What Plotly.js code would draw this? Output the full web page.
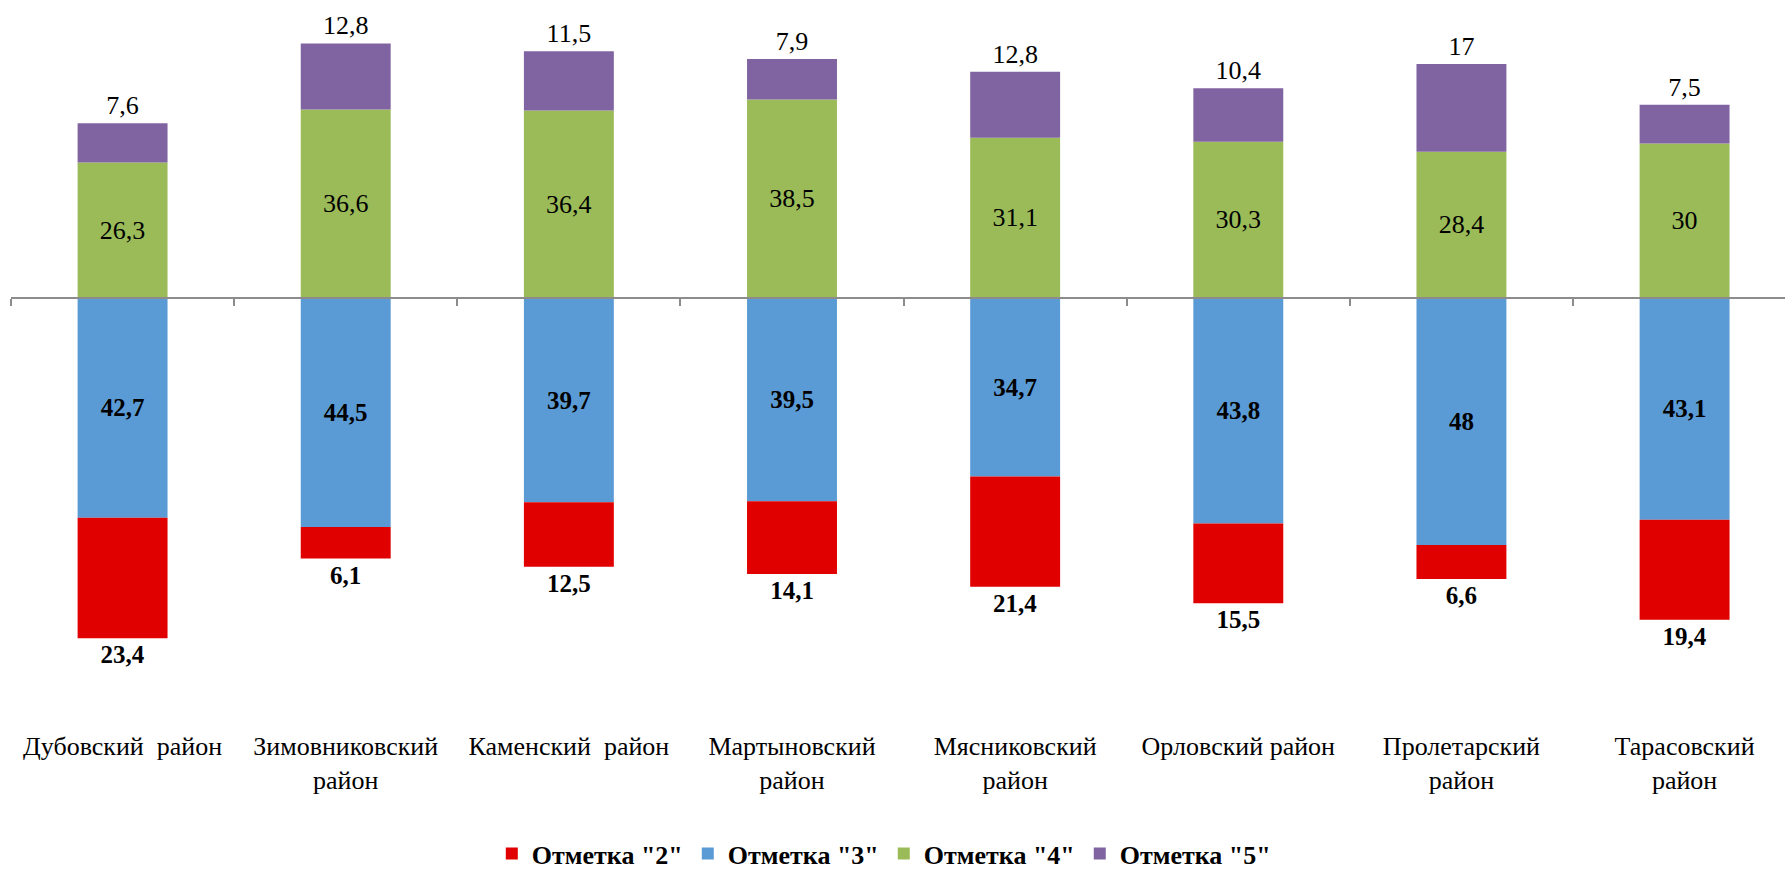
<!DOCTYPE html>
<html>
<head>
<meta charset="utf-8">
<script src="https://cdn.plot.ly/plotly-3.0.1.min.js"></script>
<style>html,body{margin:0;padding:0;background:#fff;}#chart{width:1785px;height:877px;}</style>
</head>
<body>
<div id="chart"></div>
<script>
const categories = ['Дубовский\u00A0 район', 'Зимовниковский<br>район', 'Каменский\u00A0 район', 'Мартыновский<br>район', 'Мясниковский<br>район', 'Орловский район', 'Пролетарский<br>район', 'Тарасовский<br>район'];
const mark2 = [23.4, 6.1, 12.5, 14.1, 21.4, 15.5, 6.6, 19.4];
const mark3 = [42.7, 44.5, 39.7, 39.5, 34.7, 43.8, 48, 43.1];
const mark4 = [26.3, 36.6, 36.4, 38.5, 31.1, 30.3, 28.4, 30];
const mark5 = [7.6, 12.8, 11.5, 7.9, 12.8, 10.4, 17, 7.5];
const seriesNames = ['Отметка "2"', 'Отметка "3"', 'Отметка "4"', 'Отметка "5"'];
const colors = ['#E00000', '#5B9BD5', '#9BBB59', '#8064A2'];

const FONT = "'Liberation Serif', 'Times New Roman', serif";
const fmt = v => String(v).replace('.', ',');

const yRange = [-83.9, 55.9];
const xRange = [-0.5, 7.45];

function bar(vals, k, sign, pos, bold, rank) {
  return {
    type: 'bar',
    name: seriesNames[k],
    x: categories,
    y: vals.map(v => sign * v),
    text: vals.map(fmt),
    texttemplate: '%{text}',
    textposition: pos,
    insidetextanchor: 'middle',
    constraintext: 'none',
    cliponaxis: false,
    textangle: 0,
    textfont: {family: FONT, size: bold ? 25 : 26, color: '#000', weight: bold ? 'bold' : 'normal'},
    marker: {color: colors[k], line: {width: 0}},
    width: 0.403,
    legendrank: rank,
    hoverinfo: 'skip'
  };
}

const traces = [
  bar(mark3, 1, -1, 'inside', true, 2),
  bar(mark2, 0, -1, 'outside', true, 1),
  bar(mark4, 2, 1, 'inside', false, 3),
  bar(mark5, 3, 1, 'outside', false, 4)
];

const zeroPos = (0 - yRange[0]) / (yRange[1] - yRange[0]);

const layout = {
  width: 1785, height: 877,
  margin: {l: 11, r: 0, t: 10, b: 147},
  paper_bgcolor: '#fff', plot_bgcolor: '#fff',
  barmode: 'relative',
  showlegend: true,
  legend: {
    orientation: 'h', x: 0.492, xanchor: 'center',
    yref: 'container', y: -0.006, yanchor: 'bottom',
    font: {family: FONT, size: 26, color: '#000', weight: 'bold'},
    itemwidth: 30, traceorder: 'normal'
  },
  xaxis: {
    type: 'category', range: xRange,
    anchor: 'free', position: zeroPos, side: 'bottom',
    showline: true, linecolor: '#8C8C8C', linewidth: 2,
    ticks: 'outside', tickson: 'boundaries', ticklen: 7, tickwidth: 2, tickcolor: '#8C8C8C',
    ticklabelstandoff: 425,
    showgrid: false, zeroline: false, layer: 'above traces',
    tickfont: {family: FONT, size: 26, color: '#000'},
    fixedrange: true
  },
  yaxis: {
    range: yRange, visible: false, showgrid: false, zeroline: false, fixedrange: true
  }
};

Plotly.newPlot('chart', traces, layout, {staticPlot: true, displayModeBar: false});
</script>
</body>
</html>
